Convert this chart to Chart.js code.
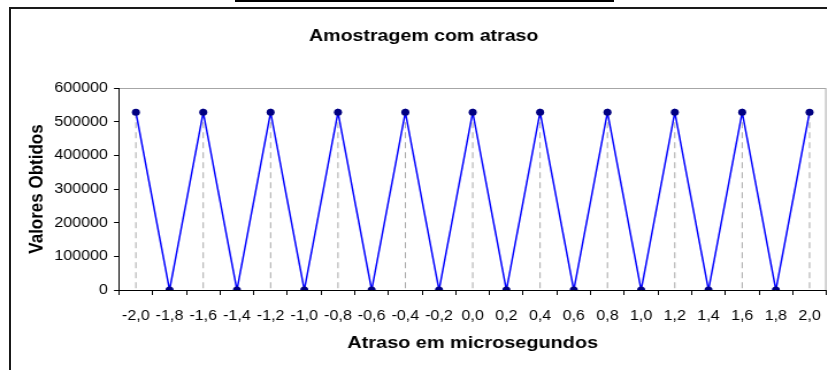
<!DOCTYPE html>
<html>
<head>
<meta charset="utf-8">
<script src="https://cdn.jsdelivr.net/npm/chart.js@4.4.1/dist/chart.umd.min.js"></script>
<style>
  html, body { margin: 0; padding: 0; background: #fff; overflow: hidden; width: 827px; height: 370px; }
  #frame { position: absolute; left: 9px; top: 7px; width: 840px; height: 400px;
           border-left: 2px solid #1a1a1a; border-top: 2px solid #1a1a1a; }
  #topline { position: absolute; left: 235px; top: 0; width: 379px; height: 2px; background: #000; }
  /* the sheet chart is drawn a bit wider than tall, so stretch the canvas sideways */
  #wrap { position: absolute; left: 0; top: 0; width: 737px; height: 370px;
          transform: scaleX(1.15); transform-origin: 0 0; }
</style>
</head>
<body>
<div id="topline"></div>
<div id="frame"></div>
<div id="wrap"><canvas id="chart" width="737" height="370"></canvas></div>
<script>
var delays = ['-2,0', '-1,8', '-1,6', '-1,4', '-1,2', '-1,0', '-0,8', '-0,6', '-0,4', '-0,2',
              '0,0', '0,2', '0,4', '0,6', '0,8', '1,0', '1,2', '1,4', '1,6', '1,8', '2,0'];
var samples = [528000, 0, 528000, 0, 528000, 0, 528000, 0, 528000, 0,
               528000, 0, 528000, 0, 528000, 0, 528000, 0, 528000, 0, 528000];
var yMin = 0, yMax = 600000, yStep = 100000;

var fontFamily = 'Arial, "Liberation Sans", sans-serif';
Chart.defaults.font.family = fontFamily;
Chart.defaults.color = '#000';

// grey dashed drop lines from every point down to the category axis
var dropLines = {
    id: 'dropLines',
    beforeDatasetsDraw: function(chart) {
        var ctx = chart.ctx;
        var base = chart.scales.y.getPixelForValue(0);
        ctx.save();
        ctx.strokeStyle = '#a8a8a8';
        ctx.lineWidth = 1;
        ctx.setLineDash([6, 4]);
        chart.getDatasetMeta(0).data.forEach(function(pt) {
            ctx.beginPath();
            ctx.moveTo(pt.x, pt.y);
            ctx.lineTo(pt.x, base);
            ctx.stroke();
        });
        ctx.restore();
    }
};

// light grey box round the plot area (axes cover its left and bottom side)
var plotFrame = {
    id: 'plotFrame',
    beforeDraw: function(chart) {
        var a = chart.chartArea, ctx = chart.ctx;
        ctx.save();
        ctx.strokeStyle = '#a6a6a6';
        ctx.lineWidth = 1;
        ctx.strokeRect(a.left, a.top + 0.5, a.right - a.left - 0.5, a.bottom - a.top);
        ctx.restore();
    }
};

var ctx = document.getElementById('chart').getContext('2d');
var chart = new Chart(ctx, {
    type: 'line',
    data: {
        labels: delays,
        datasets: [{
            label: 'Valores Obtidos',
            data: samples,
            borderColor: '#0000ff',
            borderWidth: 1.5,
            tension: 0,
            pointRadius: 3.5,
            pointBackgroundColor: '#000080',
            pointBorderColor: '#000080',
            pointBorderWidth: 0
        }]
    },
    options: {
        responsive: false,
        animation: false,
        layout: { padding: 0 },
        plugins: {
            legend: { display: false },
            tooltip: { enabled: false },
            title: {
                display: true,
                text: 'Amostragem com atraso',
                color: '#000',
                font: { size: 17, weight: 'bold' },
                padding: { top: 26.2, bottom: 41.4 }
            }
        },
        scales: {
            x: {
                type: 'category',
                offset: true,
                grid: { offset: true, drawOnChartArea: false, color: '#000', tickColor: '#000', tickLength: 5 },
                border: { color: '#000', width: 1 },
                ticks: { font: { size: 14 }, color: '#000', padding: 12.4, maxRotation: 0, autoSkip: false },
                title: {
                    display: true,
                    text: 'Atraso em microsegundos',
                    color: '#000',
                    font: { size: 17.3, weight: 'bold' },
                    padding: { top: 0, bottom: 16.3 }
                },
                afterFit: function(s) { s.height = 80; }
            },
            y: {
                min: yMin,
                max: yMax,
                grid: { drawOnChartArea: false, color: '#000', tickColor: '#000', tickLength: 4.35 },
                border: { color: '#000', width: 1 },
                ticks: {
                    stepSize: yStep,
                    font: { size: 14 },
                    color: '#000',
                    padding: 5.25,
                    callback: function(v) { return String(v); }
                },
                title: {
                    display: true,
                    text: 'Valores Obtidos',
                    color: '#000',
                    font: { size: 17, weight: 'bold' },
                    padding: { top: 22, bottom: 0 }
                },
                afterFit: function(s) { s.width = 103.5; }
            },
            // empty right-hand box so the plot stops short of the frame edge
            yRight: {
                position: 'right',
                display: true,
                grid: { display: false },
                border: { display: false },
                ticks: { display: false },
                afterFit: function(s) { s.width = 18.4; }
            }
        }
    },
    plugins: [plotFrame, dropLines]
});
</script>
</body>
</html>
